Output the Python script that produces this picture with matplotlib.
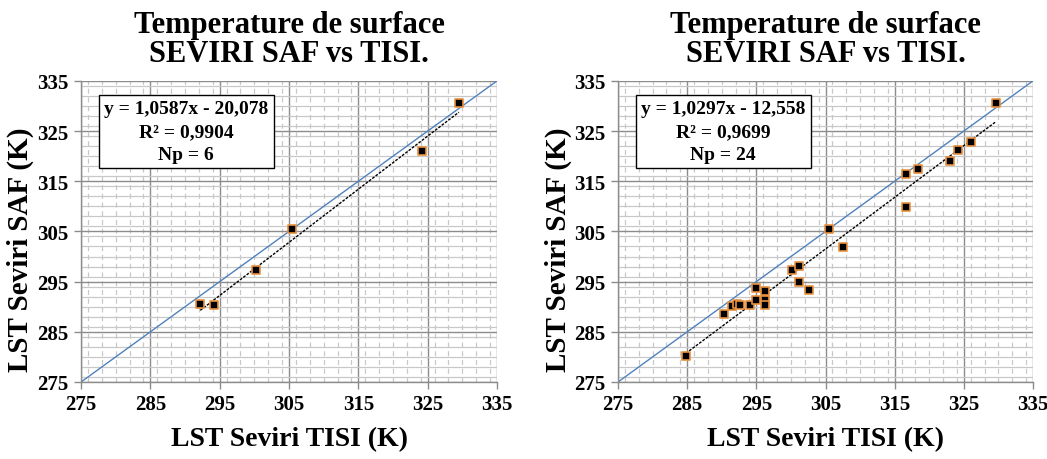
import matplotlib
matplotlib.use("Agg")
import matplotlib.pyplot as plt
from matplotlib.patches import Rectangle
from matplotlib.ticker import MultipleLocator
import numpy as np

plt.rcParams['font.family'] = ['Liberation Serif', 'DejaVu Serif']

# ---- data ----
tisi_a = [292.2, 294.2, 300.2, 305.5, 324.2, 329.5]
saf_a = [290.6, 290.3, 297.3, 305.4, 321.1, 330.6]
slope_a, icpt_a, r2_a = 1.0587, -20.078, 0.9904

tisi_b = [284.8, 290.3, 291.5, 292.2, 292.6, 294.1, 294.95, 294.95, 296.3, 296.3,
          296.3, 300.2, 301.2, 301.2, 302.6, 305.5, 307.6, 316.7, 316.7, 318.4,
          323.0, 324.2, 326.0, 329.6]
saf_b = [280.1, 288.5, 290.2, 290.6, 290.3, 290.3, 293.8, 291.4, 293.1, 291.4,
         290.3, 297.3, 298.2, 295.0, 293.3, 305.4, 301.9, 316.5, 309.9, 317.5,
         319.0, 321.2, 322.9, 330.6]
slope_b, icpt_b, r2_b = 1.0297, -12.558, 0.9699

title_text = "Temperature de surface\nSEVIRI SAF vs TISI."
xlabel_text = "LST Seviri TISI (K)"
ylabel_text = "LST Seviri SAF (K)"
ticks = [275, 285, 295, 305, 315, 325, 335]

fig = plt.figure(figsize=(10.47, 4.60), dpi=100)

def fmt(v, n):
    return f"{v:.{n}f}".replace('.', ',')

def panel(rect, xs, ys, slope, icpt, r2):
    ax = fig.add_axes(rect)
    ax.set_xlim(275, 335)
    ax.set_ylim(275, 335)
    ax.set_xticks(ticks)
    ax.set_yticks(ticks)
    ax.xaxis.set_minor_locator(MultipleLocator(2))
    ax.yaxis.set_minor_locator(MultipleLocator(2))
    ax.grid(which='major', color='#8c8c8c', linewidth=1.0, zorder=0)
    ax.grid(which='minor', axis='y', color='#c8c8c8', linewidth=0.9, zorder=0)
    ax.grid(which='minor', axis='x', color='#c8c8c8', linewidth=0.9,
            linestyle=(0, (4, 3)), zorder=0)
    ax.tick_params(which='minor', length=0)
    ax.tick_params(which='major', length=5, color='#8c8c8c', width=1, pad=4)
    for lab in ax.get_xticklabels() + ax.get_yticklabels():
        lab.set_fontweight('bold')
        lab.set_fontsize(15)
    for s in ['top', 'right']:
        ax.spines[s].set_visible(False)
    for s in ['left', 'bottom']:
        ax.spines[s].set_color('#8c8c8c')
        ax.spines[s].set_linewidth(1)
    # identity line
    ax.plot([275, 335], [275, 335], color='#4f81bd', linewidth=1.0, zorder=2)
    # trend line
    xt = np.array([min(xs), max(xs)])
    ax.plot(xt, slope * xt + icpt, color='black', linewidth=1.0,
            linestyle=(0, (2, 1)), zorder=3)
    ax.scatter(xs, ys, marker='s', s=30, facecolor='black',
               edgecolor='#e8913e', linewidth=1.2, zorder=4)
    ax.set_title(title_text, fontsize=22, fontweight='bold', pad=14,
                 linespacing=1.0)
    ax.set_xlabel(xlabel_text, fontsize=20, fontweight='bold', labelpad=8)
    ax.set_ylabel(ylabel_text, fontsize=21, fontweight='bold')
    ax.yaxis.set_label_coords(-0.112, 0.442)
    # annotation box
    ax.add_patch(Rectangle((0.0425, 0.71), 0.4215, 0.243, transform=ax.transAxes,
                           facecolor='white', edgecolor='black', linewidth=1.0,
                           zorder=5))
    lines = [f"y = {fmt(slope, 4)}x - {fmt(-icpt, 3)}",
             f"R² = {fmt(r2, 4)}",
             f"Np = {len(xs)}"]
    for yy, t in zip([0.907, 0.831, 0.754], lines):
        ax.text(0.253, yy, t, transform=ax.transAxes, ha='center', va='center',
                fontsize=14, fontweight='bold', zorder=6)
    return ax

panel([0.0774, 0.1674, 0.3973, 0.6546], tisi_a, saf_a, slope_a, icpt_a, r2_a)
panel([0.5903, 0.1674, 0.3963, 0.6546], tisi_b, saf_b, slope_b, icpt_b, r2_b)

fig.savefig("out.png", dpi=100)
